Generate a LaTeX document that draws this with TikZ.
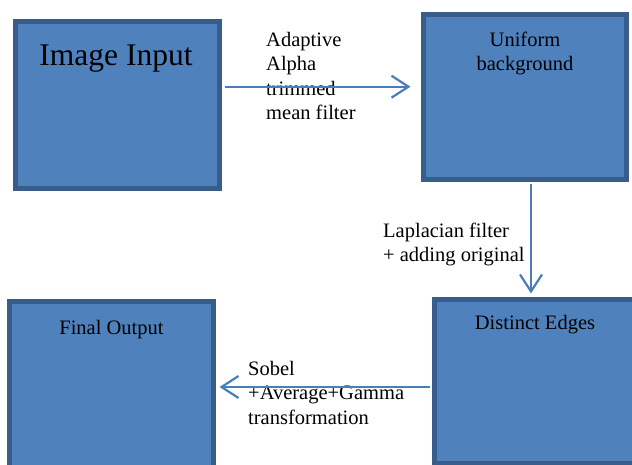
\documentclass[tikz,border=0pt]{standalone}
\usepackage{fontspec}
\setmainfont{Liberation Serif}
\usetikzlibrary{arrows.meta}

\definecolor{boxfill}{HTML}{4F81BD}
\definecolor{boxedge}{HTML}{385D8A}
\definecolor{flowline}{HTML}{4A7EBB}

\tikzset{
  stagebox/.style={draw=boxedge, fill=boxfill, line width=5pt, inner sep=0pt,
    minimum width=204pt, minimum height=166pt},
  smalltext/.style={font=\fontsize{20.5}{24.5}\selectfont, inner sep=0pt, text=black},
  bigtext/.style={font=\fontsize{31.5}{37}\selectfont, inner sep=0pt, text=black},
  flow/.style={draw=flowline, line width=2.2pt,
    -{Straight Barb[length=17pt, width=22pt]}},
}

\begin{document}
\begin{tikzpicture}[x=1pt, y=1pt]
  \useasboundingbox (0,0) rectangle (632,464);
  \clip (0,0) rectangle (632,464);

  % processing stages
  \node[stagebox, minimum height=167pt] (b1) at (117.5,359) {};
  \node[stagebox, minimum width=203pt, minimum height=165pt] (b2) at (525,367) {};
  \node[stagebox, minimum width=203pt, minimum height=164pt] (b3) at (536,82.5) {};
  \node[stagebox, minimum height=167pt] (b4) at (111.5,79) {};

  % stage titles
  \node[bigtext, anchor=north] (t1) at ([xshift=-1.5pt, yshift=-20pt]b1.north) {\strut Image Input};
  \node[smalltext, anchor=north, align=center] (t2) at ([yshift=-17pt]b2.north)
    {\strut Uniform\\\strut background};
  \node[smalltext, anchor=north] (t3) at ([xshift=-1pt, yshift=-15pt]b3.north) {\strut Distinct Edges};
  \node[smalltext, anchor=north] (t4) at ([yshift=-18pt]b4.north) {\strut Final Output};

  % operation labels
  \node[smalltext, anchor=north west, align=left] (l1) at (266,435.15)
    {\strut Adaptive\\\strut Alpha\\\strut trimmed\\\strut mean filter};
  \node[smalltext, anchor=north west, align=left] (l2) at (383,244.15)
    {\strut Laplacian filter\\\strut + adding original};
  \node[smalltext, anchor=north west, align=left] (l3) at (248,106.15)
    {\strut Sobel\\\strut +Average+Gamma\\\strut transformation};

  % connectors
  \draw[flow, shorten <=2.5pt, shorten >=10.5pt]
    ([yshift=18.3pt]b1.east) -- ([yshift=18.3pt]b1.east -| b2.west);
  \draw[flow, shorten <=2.5pt, shorten >=3.5pt]
    ([xshift=6pt]b2.south) -- ([xshift=6pt]b2.south |- b3.north);
  \draw[flow, shorten <=2.5pt, shorten >=3.5pt]
    ([yshift=-5.5pt]b3.west) -- ([yshift=-5.5pt]b3.west -| b4.east);
\end{tikzpicture}
\end{document}
